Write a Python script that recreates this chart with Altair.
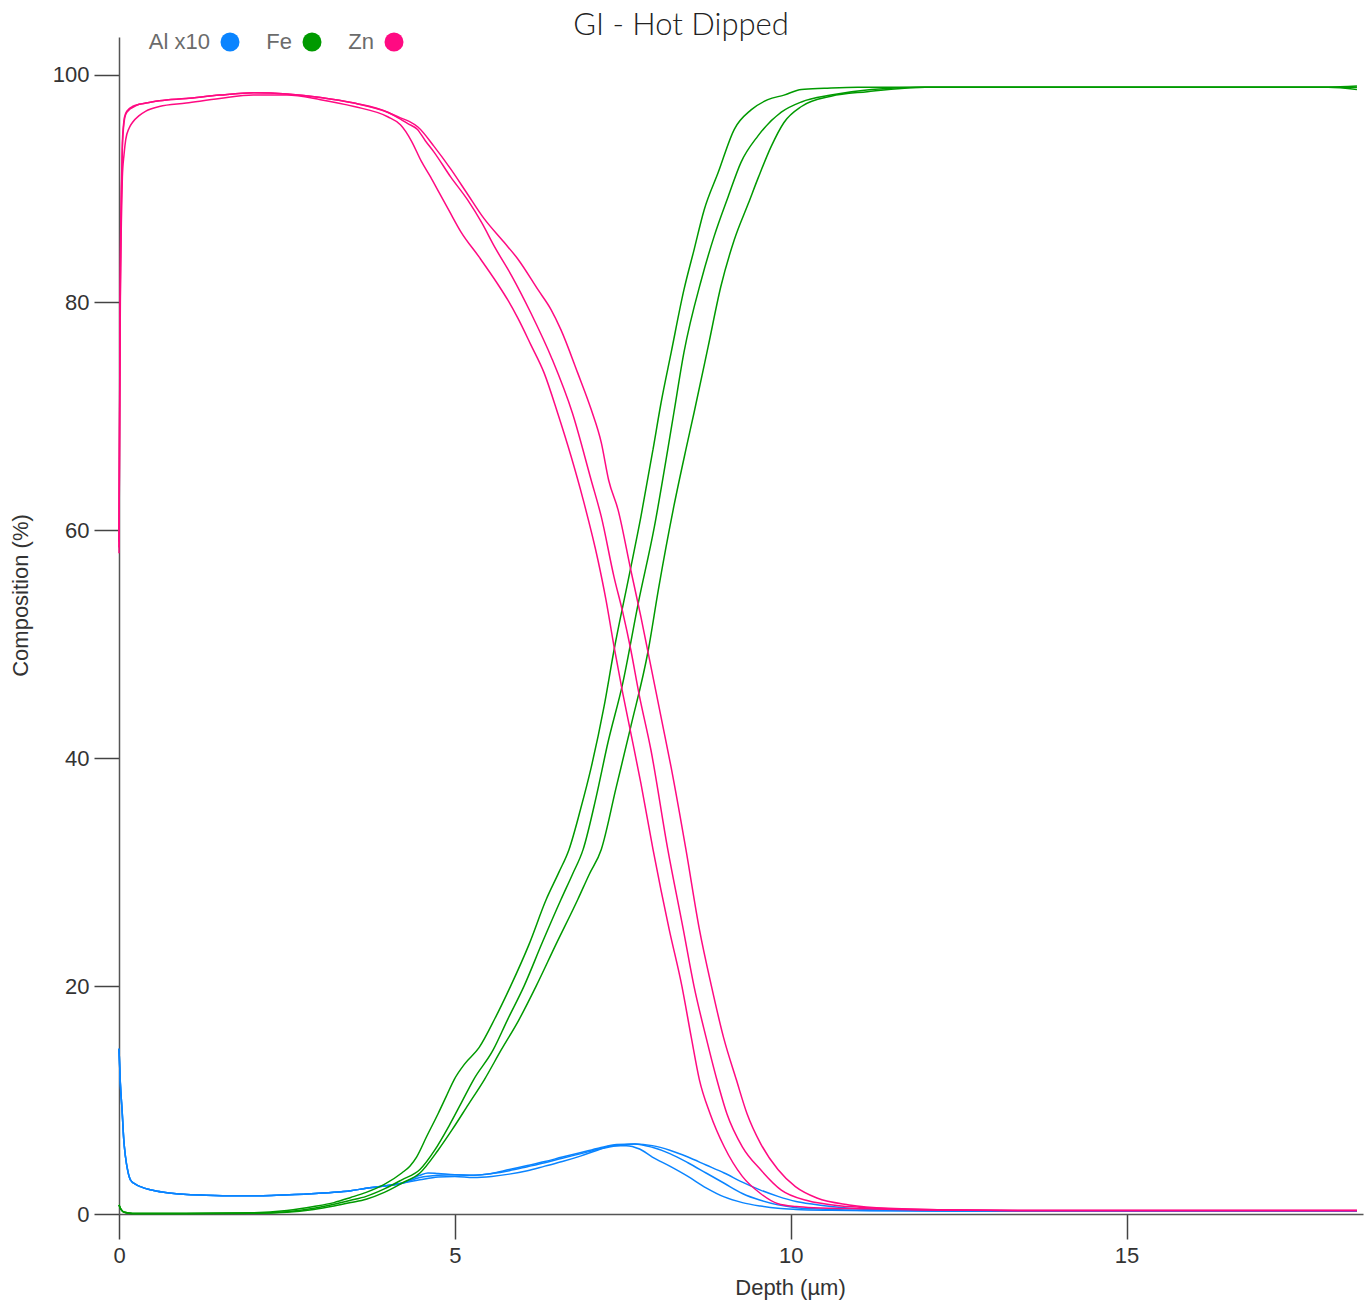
import altair as alt
import pandas as pd

TITLE = "GI - Hot Dipped"
ELEMENTS = ["Al x10", "Fe", "Zn"]
COLORS = ["#0a84ff", "#009a00", "#ff0a82"]
X_TICKS = [0, 5, 10, 15]
Y_TICKS = [0, 20, 40, 60, 80, 100]

# ---- Al x10 (three runs) ----
al_start_depth = [0, 0.02, 0.048, 0.07, 0.097, 0.13, 0.17, 0.25, 0.32, 0.45, 0.57, 0.75, 0.96, 1.3,
                  1.71, 2.1, 2.45, 2.8, 3.2, 3.45, 3.68, 3.95, 4.21]
al_start_value = [14.5, 11.5, 8.9, 6.6, 5.0, 3.8, 3.0, 2.6, 2.4, 2.15, 2.0, 1.85, 1.73, 1.65,
                  1.6, 1.6, 1.67, 1.75, 1.9, 2.05, 2.25, 2.45, 2.7]
al_a_depth = [4.48, 4.75, 5.0, 5.28, 5.55, 5.81, 6.08, 6.34, 6.6, 6.88, 7.1, 7.35, 7.55, 7.75, 7.94,
              8.2, 8.47, 8.74, 9.01, 9.28, 9.55, 9.81, 10.08, 10.6, 11.2, 12.5, 14, 15.5, 17, 18.43]
al_a_value = [3.0, 3.25, 3.3, 3.2, 3.3, 3.5, 3.8, 4.2, 4.6, 5.1, 5.55, 6.0, 6.0, 5.7, 5.0,
              4.2, 3.3, 2.3, 1.5, 1.0, 0.7, 0.5, 0.4, 0.32, 0.28, 0.25, 0.25, 0.25, 0.25, 0.25]
al_b_depth = [4.48, 4.6, 4.75, 5.0, 5.28, 5.55, 5.81, 6.08, 6.34, 6.6, 6.88, 7.15, 7.41, 7.68, 7.94,
              8.2, 8.47, 8.74, 9.01, 9.28, 9.55, 9.81, 10.08, 10.34, 10.87, 11.5, 12.5, 14, 15.5, 17, 18.43]
al_b_value = [3.4, 3.6, 3.55, 3.45, 3.4, 3.55, 3.9, 4.25, 4.6, 5.0, 5.4, 5.8, 6.1, 6.15, 5.85,
              5.3, 4.5, 3.6, 2.7, 1.8, 1.2, 0.8, 0.55, 0.45, 0.35, 0.3, 0.27, 0.25, 0.25, 0.25, 0.25]
al_c_depth = [4.48, 4.75, 5.0, 5.28, 5.55, 5.81, 6.08, 6.34, 6.6, 6.88, 7.15, 7.41, 7.68, 7.94, 8.2,
              8.47, 8.74, 9.01, 9.28, 9.55, 9.81, 10.08, 10.34, 10.6, 11.14, 11.8, 12.5, 14, 15.5, 17, 18.43]
al_c_value = [3.2, 3.4, 3.45, 3.4, 3.55, 3.8, 4.15, 4.5, 4.9, 5.3, 5.7, 6.0, 6.15, 6.0, 5.6,
              5.0, 4.3, 3.6, 2.8, 2.1, 1.55, 1.1, 0.85, 0.65, 0.4, 0.32, 0.28, 0.25, 0.25, 0.25, 0.25]

# ---- Fe (three runs) ----
fe_a_depth = [0, 0.03, 0.08, 0.2, 1.0, 2.0, 2.5, 2.9, 3.2, 3.45, 3.68, 3.95, 4.21, 4.33, 4.43, 4.58,
              4.75, 4.87, 4.99, 5.15, 5.36, 5.6, 5.83, 6.1, 6.36, 6.55, 6.70, 6.87, 7.03, 7.22, 7.37,
              7.59, 7.77, 7.95, 8.07, 8.22, 8.41, 8.56, 8.71, 8.92, 9.16, 9.41, 9.66, 9.90, 10.16,
              10.5, 11.0, 12, 13, 14, 15, 16, 17, 18, 18.43]
fe_a_value = [0.8, 0.4, 0.15, 0.05, 0.05, 0.1, 0.3, 0.65, 1.0, 1.45, 1.9, 2.6, 3.6, 4.2, 5.0, 6.8,
              8.8, 10.3, 11.8, 13.2, 14.6, 17.2, 20.0, 23.6, 27.6, 30.0, 32.0, 35.5, 39.2, 44.5, 49.5,
              55.9, 61.2, 67.1, 71.2, 75.6, 81.1, 84.6, 88.1, 91.4, 95.2, 96.9, 97.8, 98.2, 98.7,
              98.8, 98.9, 98.9, 98.9, 98.9, 98.9, 98.9, 98.9, 98.9, 99.0]
fe_b_depth = [0, 0.03, 0.08, 0.2, 1.0, 2.0, 2.5, 2.9, 3.2, 3.45, 3.68, 3.95, 4.21, 4.48, 4.70, 4.91,
              5.1, 5.28, 5.57, 5.78, 6.03, 6.3, 6.58, 6.75, 6.91, 7.1, 7.28, 7.50, 7.73, 7.97, 8.17,
              8.26, 8.41, 8.67, 8.86, 9.07, 9.26, 9.51, 9.86, 10.16, 10.6, 11.2, 12, 13, 14, 15, 16,
              17, 18, 18.43]
fe_b_value = [0.8, 0.4, 0.15, 0.05, 0.05, 0.07, 0.2, 0.5, 0.85, 1.2, 1.55, 2.2, 3.0, 3.9, 5.6, 7.7,
              9.8, 11.8, 14.4, 17.0, 20.0, 23.8, 27.6, 29.8, 32.0, 36.5, 41.4, 46.6, 53.6, 60.3, 67.1,
              70.3, 75.6, 82.0, 85.8, 89.3, 92.3, 94.6, 96.7, 97.6, 98.2, 98.7, 98.9, 98.9, 98.9, 98.9,
              98.9, 98.9, 98.9, 98.7]
fe_c_depth = [0, 0.03, 0.08, 0.2, 1.0, 2.0, 2.5, 2.9, 3.2, 3.45, 3.68, 3.95, 4.21, 4.48, 4.75, 4.96,
              5.2, 5.44, 5.69, 5.95, 6.21, 6.5, 6.83, 7.0, 7.18, 7.4, 7.62, 7.88, 8.03, 8.26, 8.44,
              8.56, 8.77, 8.96, 9.16, 9.37, 9.52, 9.71, 9.90, 10.16, 10.6, 11.14, 12, 13, 14, 15, 16,
              17, 18, 18.43]
fe_c_value = [0.8, 0.4, 0.15, 0.05, 0.05, 0.06, 0.15, 0.4, 0.7, 1.0, 1.3, 1.9, 2.7, 3.6, 5.6, 7.4,
              9.6, 11.8, 14.4, 17.0, 20.0, 23.6, 27.6, 29.8, 32.0, 37.4, 42.8, 49.5, 54.8, 62.1, 67.1,
              70.3, 76.1, 81.4, 85.5, 88.7, 91.0, 93.7, 95.8, 97.2, 98.1, 98.5, 98.9, 98.9, 98.9, 98.9,
              98.9, 98.9, 98.9, 98.9]

# ---- Zn (three runs) ----
zn_a_depth = [0, 0.01, 0.02, 0.035, 0.05, 0.075, 0.1, 0.15, 0.2, 0.3, 0.4, 0.6, 1.0, 1.5, 2.0, 2.5,
              3.0, 3.5, 4.0, 4.19, 4.27, 4.36, 4.5, 4.64, 4.76, 4.91, 5.09, 5.36, 5.64, 5.79, 5.94,
              6.13, 6.33, 6.53, 6.73, 6.91, 7.13, 7.25, 7.37, 7.50, 7.62, 7.77, 7.95, 8.19, 8.38,
              8.52, 8.64, 8.80, 9.01, 9.28, 9.55, 9.81, 10.08, 10.34, 11.14, 12, 14, 16, 18.43]
zn_a_value = [58.5, 70, 80, 87, 91, 93, 94.3, 95.3, 95.8, 96.4, 96.8, 97.2, 97.5, 97.9, 98.2, 98.2,
              97.8, 97.2, 96.3, 95.6, 95.0, 94.1, 92.4, 91.0, 89.7, 88.1, 86.2, 84.0, 81.6, 80.2, 78.6,
              76.3, 73.8, 70.3, 66.5, 62.7, 57.4, 53.9, 49.8, 45.7, 42.2, 37.8, 32.0, 25.0, 20.0,
              15.5, 11.8, 8.8, 5.9, 3.3, 1.8, 0.9, 0.65, 0.55, 0.45, 0.35, 0.3, 0.3, 0.3]
zn_b_depth = [0, 0.01, 0.02, 0.035, 0.05, 0.075, 0.1, 0.15, 0.2, 0.3, 0.4, 0.6, 1.0, 1.5, 2.0, 2.5,
              3.0, 3.5, 4.0, 4.19, 4.3, 4.44, 4.56, 4.69, 4.94, 5.19, 5.4, 5.59, 5.85, 6.13, 6.45,
              6.75, 7.03, 7.18, 7.37, 7.50, 7.62, 7.74, 7.92, 8.17, 8.40, 8.56, 8.74, 8.90, 9.05,
              9.28, 9.55, 9.86, 10.23, 10.87, 11.5, 12.5, 14, 16, 18.43]
zn_b_value = [59, 72, 83, 90, 94, 96, 96.6, 97.0, 97.2, 97.4, 97.5, 97.7, 97.9, 98.2, 98.4, 98.3,
              98.0, 97.5, 96.7, 96.1, 95.7, 95.2, 94.2, 93.2, 91.0, 89.0, 87.0, 84.9, 82.3, 79.1, 75.0,
              70.3, 64.4, 61.2, 55.9, 52.8, 49.5, 45.7, 40.7, 32.0, 25.0, 20.0, 15.5, 11.8, 8.8,
              5.9, 3.9, 2.1, 1.2, 0.65, 0.45, 0.35, 0.3, 0.3, 0.3]
zn_c_depth = [0, 0.01, 0.02, 0.035, 0.05, 0.075, 0.1, 0.15, 0.2, 0.3, 0.4, 0.6, 1.0, 1.5, 2.0, 2.5,
              3.0, 3.5, 4.0, 4.19, 4.32, 4.45, 4.69, 4.94, 5.19, 5.43, 5.73, 5.94, 6.24, 6.43, 6.58,
              6.83, 7.03, 7.18, 7.29, 7.43, 7.62, 7.77, 7.89, 8.07, 8.22, 8.44, 8.64, 8.82, 9.0,
              9.19, 9.35, 9.55, 9.81, 10.07, 10.39, 10.87, 11.45, 12.5, 14, 16, 18.43]
zn_c_value = [58, 71, 82, 89, 93.5, 95.8, 96.5, 96.9, 97.1, 97.4, 97.5, 97.7, 97.9, 98.2, 98.4, 98.3,
              98.0, 97.5, 96.7, 96.2, 95.9, 95.4, 93.7, 91.7, 89.5, 87.4, 85.3, 83.8, 81.1, 79.4, 77.6,
              73.8, 70.6, 67.7, 64.4, 61.8, 56.5, 52.4, 48.9, 43.6, 39.2, 32.0, 25.0, 20.0, 15.5,
              11.8, 8.8, 6.2, 3.9, 2.4, 1.4, 0.8, 0.5, 0.35, 0.3, 0.3, 0.3]

curves = [
    ("Al x10", "a", al_start_depth + al_a_depth, al_start_value + al_a_value),
    ("Al x10", "b", al_start_depth + al_b_depth, al_start_value + al_b_value),
    ("Al x10", "c", al_start_depth + al_c_depth, al_start_value + al_c_value),
    ("Fe", "a", fe_a_depth, fe_a_value),
    ("Fe", "b", fe_b_depth, fe_b_value),
    ("Fe", "c", fe_c_depth, fe_c_value),
    ("Zn", "a", zn_a_depth, zn_a_value),
    ("Zn", "b", zn_b_depth, zn_b_value),
    ("Zn", "c", zn_c_depth, zn_c_value),
]
rows = []
for el, run, ds, vs in curves:
    for d, v in zip(ds, vs):
        rows.append({"element": el, "run": el + run, "depth": d, "value": v})
df = pd.DataFrame(rows)

legend = alt.Legend(
    title=None,
    orient="none",
    legendX=100,
    legendY=-6,
    direction="horizontal",
    symbolType="circle",
    symbolSize=361,
    symbolStrokeWidth=0,
    symbolFillColor={"expr": "scale('color', datum.value)"},
    symbolOpacity=1,
    labelAlign="right",
    labelOffset={"expr": "-31"},
    labelFontSize=22,
    labelFont="Liberation Sans",
    labelColor="#6b6b6b",
    columnPadding=26,
)

chart = alt.Chart(df).mark_line(strokeWidth=1.5, interpolate="monotone").encode(
    x=alt.X("depth:Q",
            scale=alt.Scale(domain=[0, 18.52], nice=False, zero=False),
            axis=alt.Axis(title="Depth (µm)", values=X_TICKS, grid=False, labelFlush=False,
                          titleX=671, titleY=73, titleBaseline="middle", titleAlign="center")),
    y=alt.Y("value:Q",
            scale=alt.Scale(domain=[0, 103.3], nice=False),
            axis=alt.Axis(title="Composition (%)", values=Y_TICKS, grid=False, labelFlush=False,
                          titleX=-99, titleY=558, titleBaseline="middle", titleAlign="center")),
    color=alt.Color("element:N", scale=alt.Scale(domain=ELEMENTS, range=COLORS), legend=legend),
    detail="run:N",
).properties(
    width=1244,
    height=1177,
    title=alt.TitleParams(TITLE, anchor="middle", dx=-60, dy=11, fontSize=31, font="Lato",
                          fontWeight=300, color="#222222", offset=0),
    autosize=alt.AutoSizeParams(type="none"),
    padding={"left": 119, "top": 37, "right": 2, "bottom": 88},
).configure_view(
    stroke=None
).configure_axis(
    domainColor="#555555",
    domainWidth=1.5,
    tickColor="#444444",
    tickWidth=1.5,
    tickSize=25,
    labelFontSize=22,
    labelFont="Liberation Sans",
    labelColor="#333333",
    labelPadding=6,
    titleFontSize=22,
    titleFont="Liberation Sans",
    titleFontWeight="normal",
    titleColor="#333333",
).configure_axisY(
    labelPadding=5
)

chart.save("out.html", embed_options={"renderer": "svg", "actions": False})
